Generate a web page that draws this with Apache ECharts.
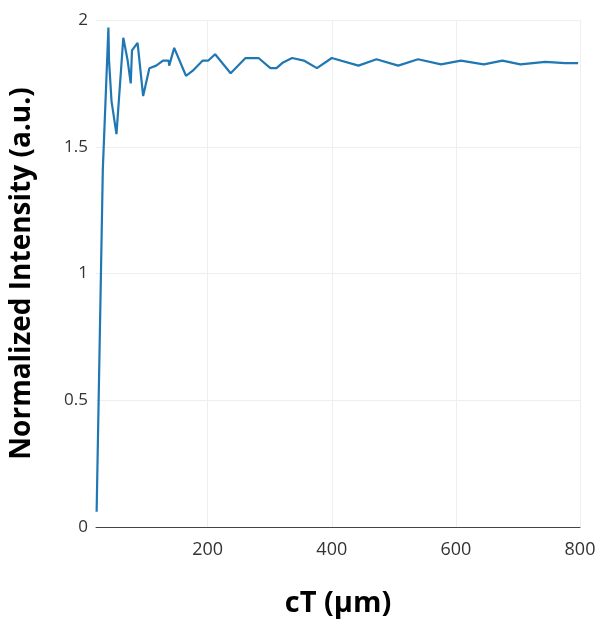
<!DOCTYPE html>
<html><head><meta charset="utf-8">
<script src="https://cdn.jsdelivr.net/npm/echarts@6/dist/echarts.min.js"></script>
<style>html,body{margin:0;background:#fff}#c{width:608px;height:624px}</style>
</head><body><div id="c"></div>
<script>
// cT (um) and normalized intensity
var cT = [21, 31, 40, 41, 45, 53, 64, 71, 76, 78, 87, 96, 106, 117, 128, 137, 138, 146, 165, 176, 192, 201, 212, 237, 261, 282, 301, 311, 320, 336, 355, 376, 400, 443, 472, 507, 539, 576, 608, 645, 675, 704, 744, 776, 797];
var intensity = [0.06, 1.41, 1.97, 1.84, 1.68, 1.55, 1.93, 1.84, 1.75, 1.88, 1.91, 1.70, 1.81, 1.82, 1.84, 1.84, 1.82, 1.89, 1.78, 1.80, 1.84, 1.84, 1.865, 1.79, 1.85, 1.85, 1.81, 1.81, 1.83, 1.85, 1.84, 1.81, 1.85, 1.82, 1.845, 1.82, 1.845, 1.825, 1.84, 1.825, 1.84, 1.825, 1.835, 1.83, 1.83];
var xTicks = [200, 400, 600, 800];

var pts = cT.map(function (x, i) { return [x, intensity[i]]; });
var chart = echarts.init(document.getElementById('c'));
chart.setOption({
  animation: false,
  grid: { left: 93, right: 28, top: 20, bottom: 97 },
  xAxis: {
    type: 'value', min: 20, max: 800,
    name: 'cT (μm)', nameLocation: 'middle', nameGap: 62,
    nameTextStyle: { fontFamily: 'Open Sans', fontWeight: 'bold', fontSize: 29, color: '#000' },
    axisLine: { show: true, lineStyle: { color: '#444' } },
    axisTick: { show: false, customValues: xTicks },
    axisLabel: { customValues: xTicks, fontFamily: 'Open Sans', fontSize: 18, color: '#333', margin: 14 },
    splitLine: { show: true, lineStyle: { color: '#eee' } }
  },
  yAxis: {
    type: 'value', min: 0, max: 2, interval: 0.5,
    name: 'Normalized Intensity (a.u.)', nameLocation: 'middle', nameGap: 60,
    nameTextStyle: { fontFamily: 'Open Sans', fontWeight: 'bold', fontSize: 28, color: '#000' },
    axisLine: { show: false }, axisTick: { show: false },
    axisLabel: { fontFamily: 'Open Sans', fontSize: 17, color: '#333', margin: 8 },
    splitLine: { lineStyle: { color: '#eee' } }
  },
  series: [{
    type: 'line', data: pts, showSymbol: false,
    lineStyle: { color: '#1f77b4', width: 2.2 }
  }]
});
</script></body></html>
